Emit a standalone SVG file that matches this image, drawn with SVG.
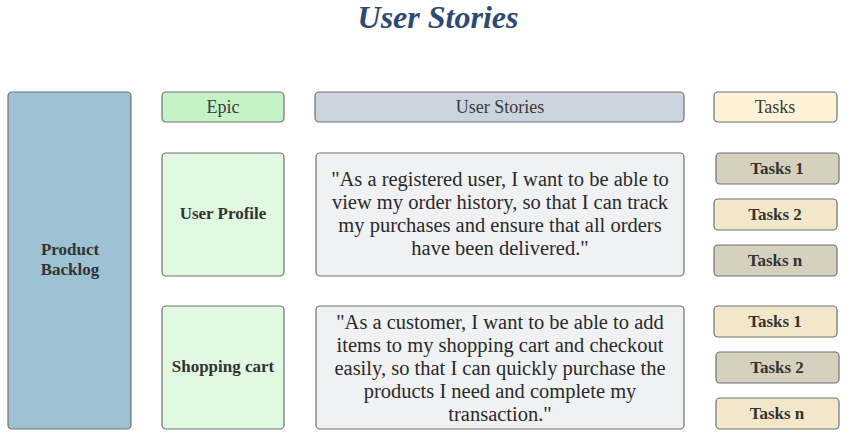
<svg xmlns="http://www.w3.org/2000/svg" width="850" height="436" viewBox="0 0 850 436">
<style>
rect{stroke:#6e7272;stroke-width:1.2}
text{font-family:"Liberation Serif","DejaVu Serif",serif;fill:#333;text-anchor:middle}
.h{font-size:18px;font-weight:500;fill:#3a3a3a}
.b{font-size:17px;font-weight:bold}
.s{font-size:20.5px;fill:#2a2a2a}
.grey{fill:#d6d1bf}
.cream{fill:#f2e7c9}
.green{fill:#e1f8e1}
.story{fill:#f0f1f3}
</style>
<rect width="850" height="436" fill="#fff" style="stroke:none"/>
<text x="438" y="28" style="font-size:32px;font-style:italic;font-weight:bold;fill:#2d4a76">User Stories</text>
<g id="backlog"><rect x="8" y="92" width="123" height="337" rx="4" fill="#9dc2d3"/><text class="b" x="70" y="255">Product</text><text class="b" x="70" y="275">Backlog</text></g>
<g id="h-epic"><rect x="162" y="92" width="122" height="30" rx="4" fill="#c5f3c7"/><text class="h" x="223" y="113">Epic</text></g>
<g id="h-stories"><rect x="315" y="92" width="369" height="30" rx="4" fill="#cbd3dc"/><text class="h" x="500" y="113">User Stories</text></g>
<g id="h-tasks"><rect x="714" y="92" width="123" height="30" rx="4" fill="#fdf2d5"/><text class="h" x="775" y="113">Tasks</text></g>
<g id="epic1"><rect class="green" x="162" y="153" width="122" height="123" rx="4"/><text class="b" x="223" y="219">User Profile</text></g>
<g id="epic2"><rect class="green" x="162" y="306" width="122" height="123" rx="4"/><text class="b" x="223" y="372">Shopping cart</text></g>
<g id="story1"><rect class="story" x="316" y="153" width="368" height="123" rx="4"/>
<text class="s" x="500" y="186">"As a registered user, I want to be able to</text>
<text class="s" x="500" y="209">view my order history, so that I can track</text>
<text class="s" x="500" y="232">my purchases and ensure that all orders</text>
<text class="s" x="500" y="255">have been delivered."</text></g>
<g id="story2"><rect class="story" x="316" y="306" width="368" height="123" rx="4"/>
<text class="s" x="500" y="329">"As a customer, I want to be able to add</text>
<text class="s" x="500" y="352">items to my shopping cart and checkout</text>
<text class="s" x="500" y="375">easily, so that I can quickly purchase the</text>
<text class="s" x="500" y="398">products I need and complete my</text>
<text class="s" x="500" y="421">transaction."</text></g>
<g id="t11"><rect class="grey" x="716" y="153" width="123" height="31" rx="4"/><text class="b" x="777" y="174">Tasks 1</text></g>
<g id="t12"><rect class="cream" x="714" y="199" width="123" height="31" rx="4"/><text class="b" x="775" y="220">Tasks 2</text></g>
<g id="t1n"><rect class="grey" x="714" y="245" width="123" height="31" rx="4"/><text class="b" x="775" y="266">Tasks n</text></g>
<g id="t21"><rect class="cream" x="714" y="306" width="123" height="31" rx="4"/><text class="b" x="775" y="327">Tasks 1</text></g>
<g id="t22"><rect class="grey" x="716" y="352" width="123" height="31" rx="4"/><text class="b" x="777" y="373">Tasks 2</text></g>
<g id="t2n"><rect class="cream" x="716" y="398" width="123" height="31" rx="4"/><text class="b" x="777" y="419">Tasks n</text></g>
<g id="connectors"/>
</svg>
